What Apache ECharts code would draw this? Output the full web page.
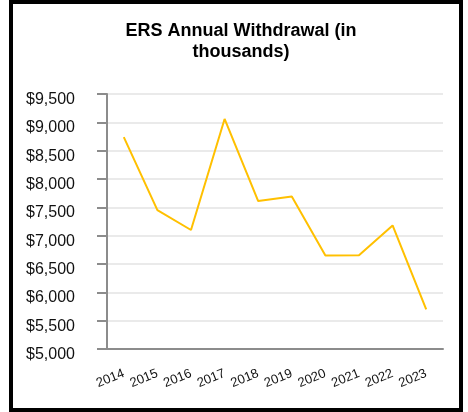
<!DOCTYPE html>
<html>
<head>
<meta charset="utf-8">
<script src="https://cdn.jsdelivr.net/npm/echarts@6/dist/echarts.min.js"></script>
<style>
html,body{margin:0;padding:0;background:#fff;}
#chart{width:468px;height:412px;}
</style>
</head>
<body>
<div id="chart"></div>
<script>
const titleText = 'ERS Annual Withdrawal (in\nthousands)';
const years = ['2014','2015','2016','2017','2018','2019','2020','2021','2022','2023'];
const withdrawals = [8740, 7450, 7100, 9060, 7610, 7690, 6650, 6655, 7180, 5700];
const yMin = 5000, yMax = 9500, yStep = 500;

const chart = echarts.init(document.getElementById('chart'), null, {renderer: 'canvas'});
chart.setOption({
  backgroundColor: '#fff',
  animation: false,
  title: {
    text: titleText,
    left: 236,
    top: 16,
    textAlign: 'center',
    textStyle: {fontFamily: 'Liberation Sans, Arial, sans-serif', fontSize: 18, fontWeight: 'bold', color: '#000', lineHeight: 21}
  },
  graphic: [{
    type: 'rect',
    shape: {x: 11, y: 2, width: 450, height: 408},
    style: {fill: 'none', stroke: '#000', lineWidth: 4},
    silent: true, z: 100
  }],
  grid: {left: 107, top: 94, width: 336, height: 255},
  xAxis: {
    type: 'category',
    data: years,
    boundaryGap: true,
    axisLine: {lineStyle: {color: '#8c8c8c', width: 2}},
    axisTick: {alignWithLabel: true, length: 10, lineStyle: {color: '#8c8c8c', width: 2}},
    axisLabel: {rotate: 22, margin: 24, fontSize: 13, color: '#111', fontFamily: 'Liberation Sans, Arial, sans-serif', interval: 0},
    splitLine: {show: false}
  },
  yAxis: {
    type: 'value',
    min: yMin, max: yMax, interval: yStep,
    axisLine: {show: true, lineStyle: {color: '#8c8c8c', width: 2}},
    axisTick: {show: true, length: 10, lineStyle: {color: '#8c8c8c', width: 2}},
    axisLabel: {
      margin: 32, fontSize: 16, color: '#111', fontFamily: 'Liberation Sans, Arial, sans-serif',
      verticalAlign: 'top', lineHeight: 11,
      formatter: v => '$' + v.toLocaleString('en-US')
    },
    splitLine: {lineStyle: {color: '#e3e3e3', width: 1.5}}
  },
  series: [{
    type: 'line',
    data: withdrawals,
    symbol: 'none',
    lineStyle: {color: '#FFC000', width: 2},
    itemStyle: {color: '#FFC000'}
  }]
});
</script>
</body>
</html>
